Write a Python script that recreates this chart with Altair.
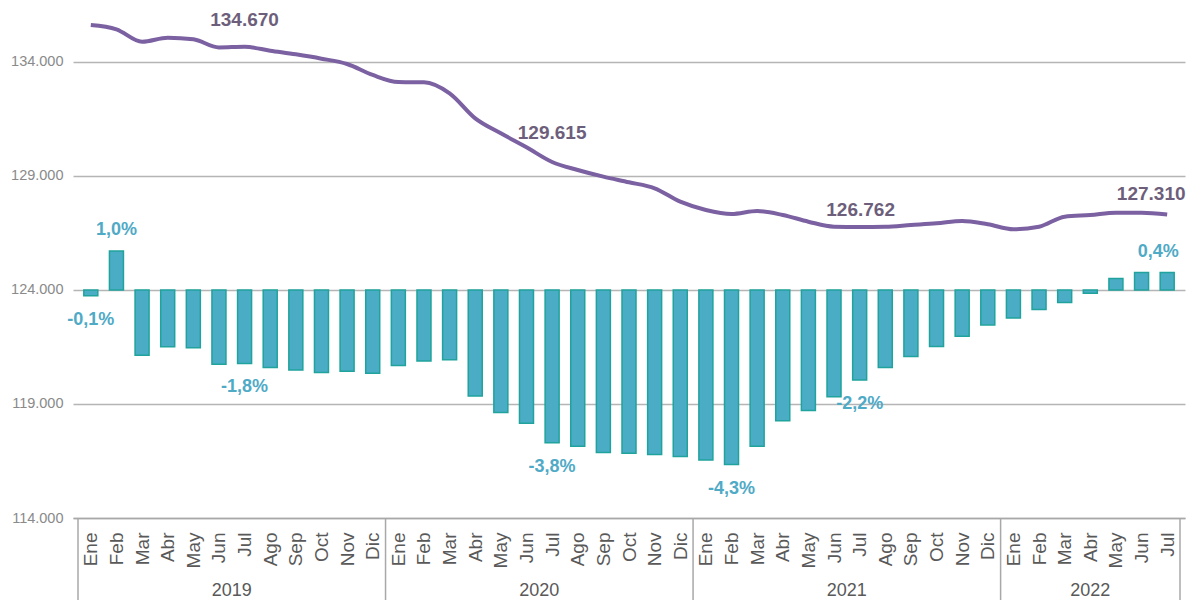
import json
import altair as alt
import pandas as pd

# ---------------- data ----------------
months = ["Ene", "Feb", "Mar", "Abr", "May", "Jun", "Jul", "Ago", "Sep", "Oct", "Nov", "Dic"]
years = ["2019", "2020", "2021", "2022"]
months_per_year = [12, 12, 12, 7]

afiliados = [
    135623, 135434, 134890, 135066, 134995, 134640, 134670, 134496, 134335, 134145, 133912, 133430,
    133120, 133110, 132627, 131530, 130873, 130259, 129615, 129263, 128970, 128724, 128461, 127873,
    127510, 127333, 127465, 127290, 126996, 126776, 126762, 126776, 126851, 126925, 127026, 126880,
    126662, 126776, 127215, 127290, 127391, 127391, 127310,
]
variacion = [
    -0.14, 0.96, -1.61, -1.40, -1.42, -1.83, -1.81, -1.91, -1.97, -2.03, -2.00, -2.05,
    -1.86, -1.75, -1.72, -2.61, -3.02, -3.28, -3.76, -3.85, -4.00, -4.02, -4.05, -4.10,
    -4.19, -4.30, -3.85, -3.22, -2.97, -2.63, -2.22, -1.91, -1.64, -1.39, -1.14, -0.86,
    -0.69, -0.48, -0.31, -0.08, 0.28, 0.43, 0.43,
]
y_ticks = [114000, 119000, 124000, 129000, 134000]
line_label_idx = [6, 18, 30, 42]
bar_label_idx = [0, 1, 6, 18, 25, 30, 42]

# ---------------- derived tables ----------------
month_labels = []
for n in months_per_year:
    month_labels += months[:n]
N = len(month_labels)

def fmt_int(v):
    return f"{v:,.0f}".replace(",", ".")

def fmt_pct(v):
    return f"{v:.1f}".replace(".", ",") + "%"

df = pd.DataFrame({
    "i": list(range(N)),
    "mes": month_labels,
    "afiliados": afiliados,
    "var": variacion,
})
df["lab_af"] = [fmt_int(v) for v in afiliados]
df["lab_var"] = [fmt_pct(v) for v in variacion]

starts = [sum(months_per_year[:k]) for k in range(len(years))]
years_df = pd.DataFrame({
    "year": years,
    "center": [s + (n - 1) / 2 for s, n in zip(starts, months_per_year)],
})
sep_df = pd.DataFrame({"b": [s - 0.5 for s in starts] + [N - 0.5]})

# ---------------- style ----------------
W, H = 1112, 508
FONT = "Liberation Sans"
LINE_C = "#7B61A1"
LINE_TXT = "#6D5F7B"
BAR_FILL = "#4BACC6"
BAR_STROKE = "#1FA39C"
BAR_TXT = "#4FAAC6"
GRAY = "#a8a8a8"

xS = alt.Scale(domain=[-0.5, N - 0.5], nice=False, zero=False)
yL = alt.Scale(domain=[114000, 136280], nice=False, zero=False)
yR = alt.Scale(domain=[-5.616, 6.896], nice=False, zero=False)

x_axis = alt.Axis(
    values=list(range(N)),
    labelExpr=f"{json.dumps(month_labels)}[datum.value]",
    labelAngle=-90, labelFontSize=19, labelColor="#595959", labelFont=FONT,
    labelPadding=14, ticks=False, domainColor=GRAY, domainWidth=1.5,
    grid=False, title=None, labelOverlap=False, labelBound=False, labelFlush=False,
)
X = alt.X("i:Q", scale=xS, axis=x_axis)

base = alt.Chart(df)

bars = base.mark_bar(size=14, fill=BAR_FILL, stroke=BAR_STROKE, strokeWidth=1.5).encode(
    x=X,
    y=alt.Y("var:Q", scale=yR, axis=None),
    y2=alt.datum(0),
)

bar_lab_pos = base.transform_filter(
    alt.FieldOneOfPredicate(field="i", oneOf=bar_label_idx)
).transform_filter("datum.var >= 0 && datum.i < 40").mark_text(
    fontSize=18, fontWeight="bold", color=BAR_TXT, font=FONT, dy=-21, baseline="middle"
).encode(
    x=X,
    y=alt.Y("var:Q", scale=yR, axis=None),
    text="lab_var:N",
)
bar_lab_last = base.transform_filter(
    alt.FieldOneOfPredicate(field="i", oneOf=bar_label_idx)
).transform_filter("datum.var >= 0 && datum.i >= 40").mark_text(
    fontSize=18, fontWeight="bold", color=BAR_TXT, font=FONT, dy=-21, dx=-9, baseline="middle"
).encode(
    x=X,
    y=alt.Y("var:Q", scale=yR, axis=None),
    text="lab_var:N",
)
bar_lab_neg = base.transform_filter(
    alt.FieldOneOfPredicate(field="i", oneOf=bar_label_idx)
).transform_filter("datum.var < 0").mark_text(
    fontSize=18, fontWeight="bold", color=BAR_TXT, font=FONT, dy=24, baseline="middle"
).encode(
    x=X,
    y=alt.Y("var:Q", scale=yR, axis=None),
    text="lab_var:N",
)

line = base.mark_line(color=LINE_C, strokeWidth=4, interpolate="monotone").encode(
    x=X,
    y=alt.Y(
        "afiliados:Q", scale=yL,
        axis=alt.Axis(
            orient="left", values=y_ticks,
            labelExpr="replace(format(datum.value, ',.0f'), ',', '.')",
            labelFontSize=14.5, labelColor="#8a8a8a", labelFont=FONT, labelPadding=10,
            ticks=False, domain=False, grid=True, gridColor="#b5b5b5", gridWidth=1.6,
            title=None,
        ),
    ),
)

line_label_offsets = {6: (0, -27), 18: (0, -29), 30: (1, -17), 42: (-16, -21)}
line_labels = []
for idx in line_label_idx:
    dx, dy = line_label_offsets[idx]
    line_labels.append(
        base.transform_filter(f"datum.i == {idx}").mark_text(
            fontSize=19, fontWeight="bold", color=LINE_TXT, font=FONT,
            dx=dx, dy=dy, baseline="middle",
        ).encode(
            x=X,
            y=alt.Y("afiliados:Q", scale=yL, axis=None),
            text="lab_af:N",
        )
    )

year_text = alt.Chart(years_df).mark_text(
    fontSize=18, color="#595959", font=FONT, baseline="alphabetic"
).encode(
    x=alt.X("center:Q", scale=xS, axis=x_axis),
    y=alt.value(H + 78),
    text="year:N",
)

seps = alt.Chart(sep_df).mark_rule(color=GRAY, strokeWidth=1.5).encode(
    x=alt.X("b:Q", scale=xS, axis=x_axis),
    y=alt.value(H),
    y2=alt.value(H + 82),
)

chart = alt.layer(
    bars, bar_lab_pos, bar_lab_last, bar_lab_neg, line, *line_labels, year_text, seps
).resolve_scale(y="independent").properties(
    width=W, height=H,
    autosize=alt.AutoSizeParams(type="none"),
    padding={"left": 65, "top": 2, "right": 1, "bottom": 82},
    background="white",
).configure(font=FONT).configure_view(stroke=None)

chart.save("out.html", embed_options={"renderer": "svg", "actions": False})
